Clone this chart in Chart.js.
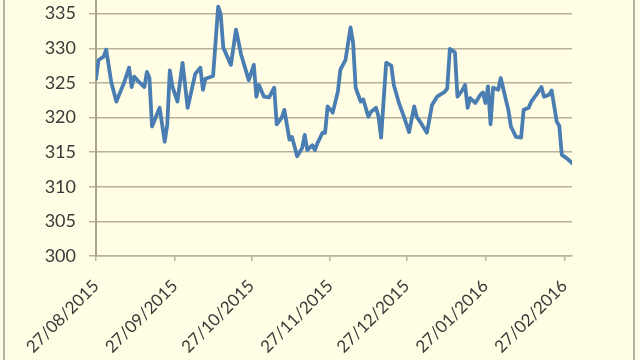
<!DOCTYPE html>
<html>
<head>
<meta charset="utf-8">
<script src="https://cdn.jsdelivr.net/npm/chart.js@4"></script>
<style>
  html, body { margin: 0; padding: 0; background: #fffde3; overflow: hidden; }
  body { width: 640px; height: 360px; position: relative; }
  #frame { position: absolute; left: 3px; top: -5px; width: 628px; height: 370px;
           border-left: 2px solid #b9b3a1; border-right: 2px solid #b9b3a1; }
  #wrap { position: absolute; left: 0; top: -21px; width: 640px; height: 381px; }
</style>
</head>
<body>
<div id="frame"></div>
<div id="wrap"><canvas id="myChart"></canvas></div>
<script>
// days counted from 27/08/2015
var days = [0, 1, 3, 4, 6, 8, 11, 13, 14, 15,
  17, 19, 20, 21, 22, 24, 25, 27, 28, 29,
  30, 32, 34, 36, 39, 41, 42, 43, 46, 48,
  49, 50, 53, 55, 57, 60, 62, 63, 64, 66,
  68, 70, 71, 73, 74, 76, 77, 79, 81, 82,
  83, 85, 86, 87, 89, 90, 91, 92, 93, 95,
  96, 98, 100, 101, 102, 104, 105, 107, 108, 110,
  111, 112, 114, 116, 117, 119, 121, 123, 125, 126,
  128, 130, 132, 134, 137, 138, 139, 141, 142, 144,
  145, 146, 147, 149, 151, 152, 153, 154, 155, 156,
  158, 159, 161, 162, 163, 165, 167, 168, 170, 171,
  173, 175, 176, 178, 179, 181, 182, 183, 185, 187];

var values = [325.6, 328.3, 328.8, 329.8, 325.1, 322.3, 325.0, 327.2, 324.4, 325.9,
  325.1, 324.4, 326.6, 325.7, 318.7, 320.5, 321.4, 316.5, 319.0, 326.8,
  324.5, 322.3, 327.9, 321.4, 326.3, 327.2, 324.0, 325.6, 326.0, 336.0,
  334.9, 330.1, 327.6, 332.7, 329.1, 325.4, 327.6, 323.0, 324.7, 323.0,
  322.9, 324.3, 319.0, 320.0, 321.1, 316.8, 317.2, 314.4, 315.6, 317.5,
  315.3, 316.0, 315.3, 316.3, 317.8, 317.8, 321.6, 321.2, 320.7, 323.7,
  326.9, 328.3, 333.0, 330.8, 324.3, 322.3, 322.6, 320.1, 320.8, 321.4,
  320.1, 317.1, 327.9, 327.5, 324.7, 322.1, 320.1, 317.9, 321.6, 320.1,
  319.0, 317.8, 321.8, 323.0, 323.7, 324.2, 329.9, 329.4, 323.0, 324.0,
  324.7, 321.4, 322.8, 322.1, 323.3, 323.6, 322.1, 324.5, 319.0, 324.3,
  324.0, 325.7, 322.6, 321.1, 318.7, 317.2, 317.1, 321.1, 321.4, 322.3,
  323.3, 324.4, 323.0, 323.3, 323.9, 319.4, 318.8, 314.6, 314.1, 313.4];

var tickDays = [0, 31, 61, 92, 122, 153, 184];
var tickLabels = ["27/08/2015", "27/09/2015", "27/10/2015", "27/11/2015",
  "27/12/2015", "27/01/2016", "27/02/2016"];

var points = days.map(function (d, i) {
  return { x: d, y: values[i] };
});

var gridColor = "#b8b19c";

const config = {
  type: "line",
  data: {
    datasets: [
      {
        data: points,
        borderColor: "#4a7db1",
        borderWidth: 3.8,
        pointRadius: 0,
        tension: 0,
        borderCapStyle: "round",
        borderJoinStyle: "round",
      },
    ],
  },
  options: {
    responsive: true,
    maintainAspectRatio: false,
    animation: false,
    layout: { padding: { left: 0, right: 68, top: 0, bottom: 0 } },
    plugins: { legend: { display: false }, tooltip: { enabled: false } },
    scales: {
      x: {
        type: "linear",
        min: 0,
        max: 187,
        afterBuildTicks: function (scale) {
          scale.ticks = tickDays.map(function (d) { return { value: d }; });
        },
        afterFit: function (scale) {
          scale.height = 104;
          scale.paddingLeft = 0;
          scale.paddingRight = 0;
        },
        grid: { drawOnChartArea: false, drawTicks: true, tickLength: 5, color: gridColor, lineWidth: 1.5 },
        border: { color: gridColor, width: 1.5 },
        ticks: {
          autoSkip: false,
          minRotation: 45,
          maxRotation: 45,
          padding: 15,
          color: "#3a3a3a",
          font: { family: "Lato", size: 17 },
          callback: function (value, index) { return tickLabels[index]; },
        },
      },
      y: {
        min: 300,
        max: 340,
        afterFit: function (scale) {
          scale.width = 96;
          scale.paddingTop = 0;
          scale.paddingBottom = 0;
        },
        grid: { color: gridColor, tickLength: 7, lineWidth: 1.5 },
        border: { color: "#a9a28c", width: 2 },
        ticks: {
          stepSize: 5,
          padding: 13,
          color: "#3a3a3a",
          font: { family: "Lato", size: 18 },
        },
      },
    },
  },
};

const myChart = new Chart(document.getElementById("myChart"), config);
</script>
</body>
</html>
